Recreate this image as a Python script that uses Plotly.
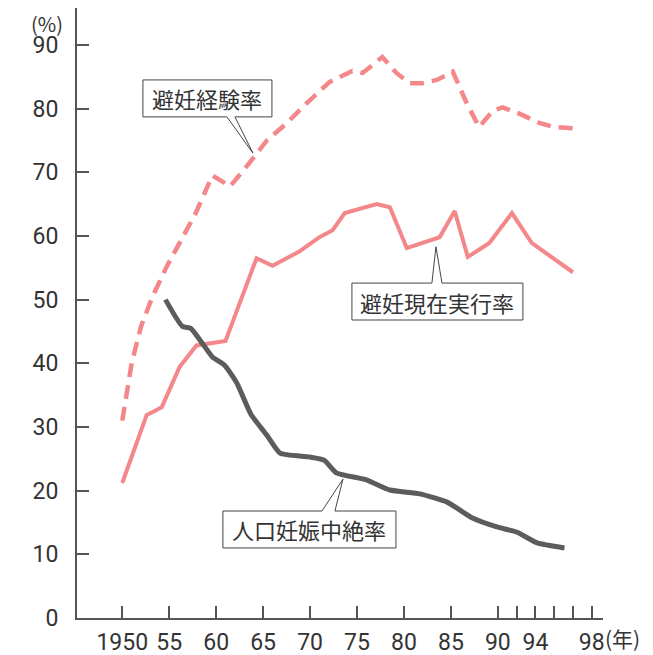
import plotly.graph_objects as go

# 避妊経験率 (dashed)
exp_years = [1950, 1951, 1952, 1953.2, 1954.7, 1956.3, 1957.8, 1959.6, 1961.5, 1963.5, 1965.4,
             1967.5, 1969.6, 1972.1, 1974.5, 1975.6, 1977.7, 1979.2, 1980.6, 1982, 1983.5,
             1985.2, 1986.7, 1988, 1989.5, 1990.5, 1992.3, 1994.5, 1996, 1998]
exp_vals = [31, 40, 45.8, 50.4, 55.1, 59.3, 63.5, 69.5, 67.8, 71.4, 75,
            77.7, 80.8, 84.2, 85.9, 85.6, 88.1, 85.6, 84, 84, 84.5,
            85.8, 80.8, 77.1, 79.7, 80.2, 79.2, 77.7, 77.1, 76.9]

# 避妊現在実行率 (solid pink)
cur_years = [1950, 1952.6, 1953.2, 1954.2, 1956.1, 1957.9, 1961, 1964.3, 1966, 1968.9,
             1971, 1972.4, 1973.7, 1977.1, 1978.5, 1980.3, 1983.8, 1985.4, 1986.8,
             1989.1, 1991.5, 1993.6, 1998]
cur_vals = [21.2, 31.9, 32.3, 33.1, 39.4, 42.8, 43.5, 56.5, 55.3, 57.6,
            59.8, 60.9, 63.6, 65, 64.5, 58.1, 59.8, 63.9, 56.7,
            58.9, 63.6, 58.9, 54.3]

# 人口妊娠中絶率 (dark)
ab_years = [1954.6, 1956.4, 1957.3, 1958.5, 1959.6, 1960.9, 1962.2, 1963.7, 1965.4, 1966.8,
            1969.9, 1971.5, 1972.8, 1976, 1978.5, 1981.7, 1984.6, 1987.3, 1989.9, 1992,
            1994.2, 1997.1]
ab_vals = [50, 45.8, 45.5, 43.2, 41, 39.7, 36.9, 32, 28.7, 25.9,
           25.3, 24.8, 22.8, 21.7, 20.1, 19.5, 18.2, 15.7, 14.3, 13.5,
           11.8, 11.0]

x_tickvals = [1950, 1955, 1960, 1965, 1970, 1975, 1980, 1985, 1990, 1992, 1994, 1996, 1998, 2000]
x_ticktext = ["1950", "55", "60", "65", "70", "75", "80", "85", "90", "", "94", "", "", "98"]
y_tickvals = [0, 10, 20, 30, 40, 50, 60, 70, 80, 90]

PINK = "#f4878a"
DARK = "#5c5c5c"
AXIS = "#555555"
TXT = "#333333"

fig = go.Figure()
fig.add_trace(go.Scatter(x=exp_years, y=exp_vals, mode="lines",
                         line=dict(color=PINK, width=4.5, dash="14px,8px"),
                         showlegend=False, hoverinfo="skip"))
fig.add_trace(go.Scatter(x=cur_years, y=cur_vals, mode="lines",
                         line=dict(color=PINK, width=4),
                         showlegend=False, hoverinfo="skip"))
fig.add_trace(go.Scatter(x=ab_years, y=ab_vals, mode="lines",
                         line=dict(color=DARK, width=5, shape="spline", smoothing=0.5),
                         showlegend=False, hoverinfo="skip"))


def box_bottom_wedge(l, r, t, b, b1, b2, tx, ty):
    return (f"M {l},{t} L {r},{t} L {r},{b} L {b2},{b} L {tx},{ty} "
            f"L {b1},{b} L {l},{b} Z")


def box_top_wedge(l, r, t, b, b1, b2, tx, ty):
    return (f"M {l},{t} L {b1},{t} L {tx},{ty} L {b2},{t} L {r},{t} "
            f"L {r},{b} L {l},{b} Z")


shapes = [
    dict(type="path", xref="x", yref="y",
         path=box_bottom_wedge(1952.2, 1965.94, 84.5, 78.7, 1961.15, 1962.0, 1963.92, 73.0),
         fillcolor="white", line=dict(color="#444444", width=1), layer="above"),
    dict(type="path", xref="x", yref="y",
         path=box_top_wedge(1974.46, 1992.67, 52.6, 46.8, 1982.98, 1984.05, 1983.41, 58.3),
         fillcolor="white", line=dict(color="#444444", width=1), layer="above"),
    dict(type="path", xref="x", yref="y",
         path=box_top_wedge(1960.72, 1979.15, 16.8, 11.0, 1971.27, 1972.65, 1973.5, 21.8),
         fillcolor="white", line=dict(color="#444444", width=1), layer="above"),
]

cjk = "Noto Sans CJK JP"
annotations = [
    dict(x=(1952.2 + 1965.94) / 2, y=(84.5 + 78.7) / 2, xref="x", yref="y", text="避妊経験率",
         showarrow=False, font=dict(family=cjk, size=22, color=TXT)),
    dict(x=(1974.46 + 1992.67) / 2, y=(52.6 + 46.8) / 2, xref="x", yref="y", text="避妊現在実行率",
         showarrow=False, font=dict(family=cjk, size=22, color=TXT)),
    dict(x=(1960.72 + 1979.15) / 2, y=(16.8 + 11.0) / 2, xref="x", yref="y", text="人口妊娠中絶率",
         showarrow=False, font=dict(family=cjk, size=22, color=TXT)),
    dict(x=-0.025, y=1.0, xref="paper", yref="paper", text="(%)", xanchor="right", yanchor="top",
         borderpad=0, showarrow=False, font=dict(family=cjk, size=20, color=TXT)),
    dict(x=1.0, y=-0.033, xref="paper", yref="paper", text="(年)", xanchor="left", yanchor="middle",
         xshift=0, showarrow=False, font=dict(family=cjk, size=21, color=TXT)),
]

# the page body adds an 8px offset on the left and top
fig.update_layout(
    width=645, height=647,
    margin=dict(l=69, r=50, t=0, b=37),
    plot_bgcolor="white", paper_bgcolor="white",
    shapes=shapes, annotations=annotations,
    xaxis=dict(range=[1945.18, 2001.2], showgrid=False, zeroline=False, automargin=False,
               showline=True, linecolor=AXIS, linewidth=2,
               ticks="inside", ticklen=12, tickwidth=1.5, tickcolor=AXIS,
               tickmode="array", tickvals=x_tickvals, ticktext=x_ticktext,
               tickfont=dict(family="Roboto", size=23, color=TXT), ticklabelstandoff=2),
    yaxis=dict(range=[0, 95.8], showgrid=False, zeroline=False, automargin=False,
               showline=True, linecolor=AXIS, linewidth=2,
               ticks="inside", ticklen=12, tickwidth=1.5, tickcolor=AXIS,
               tickmode="array", tickvals=y_tickvals,
               tickfont=dict(family="Roboto", size=23, color=TXT), ticklabelstandoff=12),
)

fig.write_html("out.html")
